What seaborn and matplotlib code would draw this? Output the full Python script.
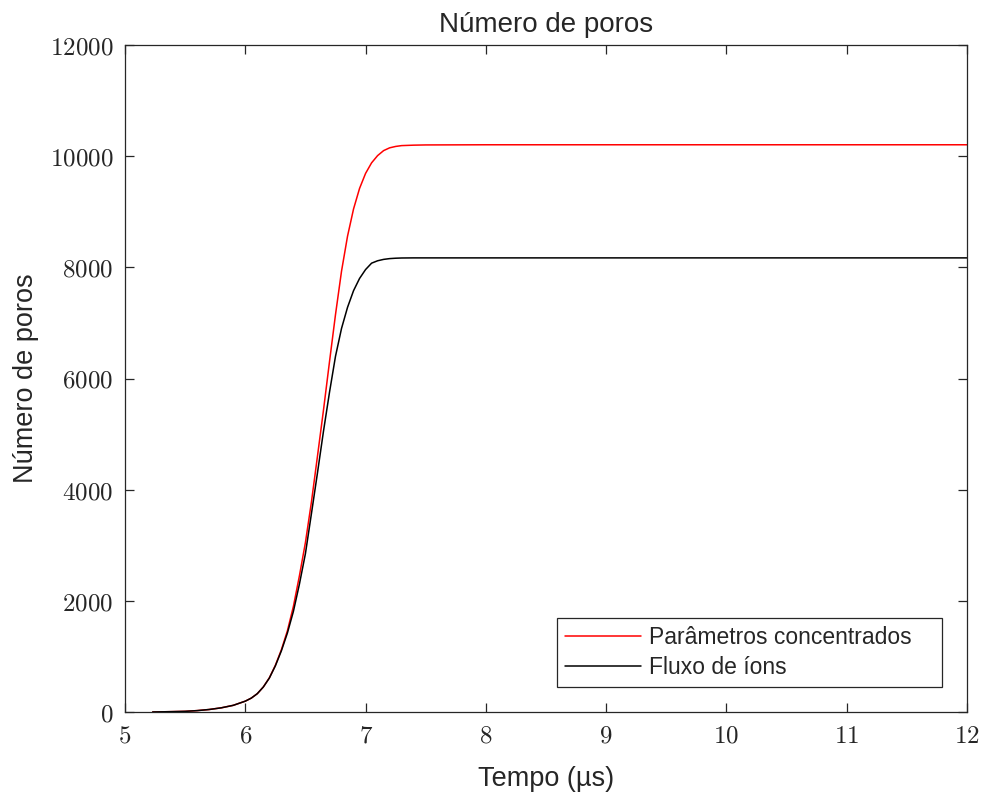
import numpy as np
import pandas as pd
import matplotlib
matplotlib.use("Agg")
import matplotlib.pyplot as plt
import seaborn as sns

# ---- data ----
tempo = [5.23, 5.4, 5.5, 5.6, 5.7, 5.8, 5.9, 6.0, 6.05, 6.1, 6.15, 6.2, 6.25, 6.3, 6.35,
         6.4, 6.45, 6.5, 6.55, 6.6, 6.65, 6.7, 6.75, 6.8, 6.85, 6.9, 6.95, 7.0, 7.05,
         7.1, 7.15, 7.2, 7.25, 7.3, 7.4, 7.5, 8.0, 9.0, 10.0, 11.0, 12.0]
parametros = [0, 7, 12, 25, 45, 75, 120, 195, 250, 330, 450, 615, 840, 1120, 1460,
              1900, 2450, 3050, 3780, 4600, 5430, 6300, 7150, 7930, 8560, 9050, 9420, 9690, 9880,
              10010, 10100, 10150, 10175, 10190, 10198, 10202, 10205, 10205, 10205, 10205, 10205]
fluxo = [0, 7, 12, 25, 45, 75, 120, 195, 250, 330, 450, 610, 830, 1100, 1420,
         1810, 2300, 2850, 3570, 4300, 5050, 5750, 6400, 6900, 7280, 7580, 7800, 7960, 8075,
         8118, 8143, 8157, 8164, 8168, 8170, 8170, 8170, 8170, 8170, 8170, 8170]
labels = ["Parâmetros concentrados", "Fluxo de íons"]
xticks = [5, 6, 7, 8, 9, 10, 11, 12]
yticks = [0, 2000, 4000, 6000, 8000, 10000, 12000]

df = pd.concat([
    pd.DataFrame({"t": tempo, "n": parametros, "serie": labels[0]}),
    pd.DataFrame({"t": tempo, "n": fluxo, "serie": labels[1]}),
], ignore_index=True)

sns.set_style("ticks")
plt.rcParams["font.family"] = ["Liberation Sans", "DejaVu Sans"]
plt.rcParams["mathtext.fontset"] = "cm"

fig = plt.figure(figsize=(9.84, 7.94), dpi=100)
ax = fig.add_axes([125/984, 82/794, 842/984, 667/794])

sns.lineplot(data=df, x="t", y="n", hue="serie", hue_order=labels,
             palette={labels[0]: "#ff0000", labels[1]: "#000000"},
             estimator=None, sort=False, linewidth=1.1, ax=ax)

ax.set_xlim(5, 12)
ax.set_ylim(0, 12000)
ax.set_xticks(xticks)
ax.set_yticks(yticks)
ax.set_xticklabels([rf"${v}$" for v in xticks])
ax.set_yticklabels([rf"${v}$" for v in yticks])

spine_col = "#262626"
for s in ax.spines.values():
    s.set_visible(True)
    s.set_color(spine_col)
    s.set_linewidth(0.9)
ax.tick_params(direction="in", length=6.5, width=0.9, colors=spine_col,
               top=True, right=True, labelsize=18, pad=8.5)
for lab in ax.get_xticklabels() + ax.get_yticklabels():
    lab.set_color("#262626")

ax.set_title("Número de poros", fontsize=20, pad=9)
ax.set_xlabel("Tempo (µs)", fontsize=19.5, labelpad=13, color="#262626")
ax.set_ylabel("Número de poros", fontsize=19.5, labelpad=8, color="#262626")

leg = ax.legend(loc="lower left", bbox_to_anchor=(432/842, 25/667, 385/842, 68/667),
                mode="expand", borderaxespad=0,
                fontsize=16.5, handlelength=3.3, handletextpad=0.35,
                labelspacing=0.3, borderpad=0.35, fancybox=False, framealpha=1,
                edgecolor="#262626")
leg.get_frame().set_linewidth(0.9)
for line in leg.get_lines():
    line.set_linewidth(1.1)

fig.savefig("out.png", dpi=100)
